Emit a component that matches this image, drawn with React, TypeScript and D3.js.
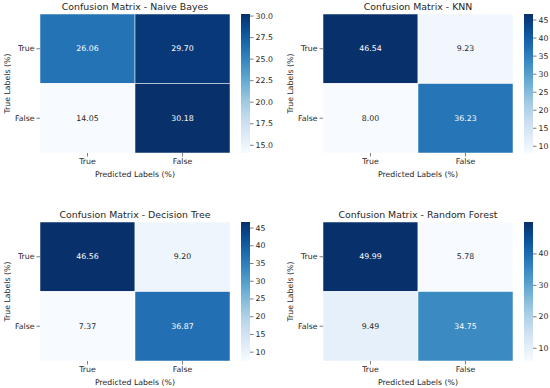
// Confusion matrix heatmaps (four models) with D3
import React, { useEffect, useRef } from 'react';
import * as d3 from 'd3';

const W = 550;
const H = 388;

const models = ['Naive Bayes', 'KNN', 'Decision Tree', 'Random Forest'];
const classLabels = ['True', 'False'];

// rows = true label, cols = predicted label
const naiveBayes = [[26.06, 29.7], [14.05, 30.18]];
const knn = [[46.54, 9.23], [8.0, 36.23]];
const decisionTree = [[46.56, 9.2], [7.37, 36.87]];
const randomForest = [[49.99, 5.78], [9.49, 34.75]];

const nbTicks = [15, 17.5, 20, 22.5, 25, 27.5, 30];
const knnTicks = [10, 15, 20, 25, 30, 35, 40, 45];
const dtTicks = [10, 15, 20, 25, 30, 35, 40, 45];
const rfTicks = [10, 20, 30, 40];

const matrices = [naiveBayes, knn, decisionTree, randomForest];
const tickSets = [nbTicks, knnTicks, dtTicks, rfTicks];
const tickFormats = ['.1f', 'd', 'd', 'd'];

// panel layout (heatmap box origin)
const origins = [[40, 14], [323, 14], [40, 222], [323, 222]];
const boxW = 190;
const boxH = 139;
const FS = 7.8;
const FONT = 'DejaVu Sans, sans-serif';
const INK = '#262626';

// seaborn-style text colour choice
const luminance = (c: string) => {
  const rgb = d3.rgb(c);
  const ch = [rgb.r, rgb.g, rgb.b].map(v => {
    const s = v / 255;
    return s <= 0.03928 ? s / 12.92 : Math.pow((s + 0.055) / 1.055, 2.4);
  });
  return 0.2126 * ch[0] + 0.7152 * ch[1] + 0.0722 * ch[2];
};

const App = () => {
  const svgRef = useRef<SVGSVGElement>(null);

  useEffect(() => {
    document.body.style.margin = '0';
    if (!svgRef.current) return;
    const svg = d3.select(svgRef.current);
    svg.selectAll('*').remove();

    svg.append('rect').attr('width', W).attr('height', H).attr('fill', '#fff');
    const defs = svg.append('defs');

    matrices.forEach((m, i) => {
      const [ox, oy] = origins[i];
      const flat = m.flat();
      const vmin = d3.min(flat) as number;
      const vmax = d3.max(flat) as number;
      const color = d3.scaleSequential(d3.interpolateBlues).domain([vmin, vmax]);

      const x = d3.scaleBand().domain(classLabels).range([0, boxW]);
      const y = d3.scaleBand().domain(classLabels).range([0, boxH]);

      const g = svg.append('g').attr('transform', `translate(${ox},${oy})`);

      const cells = classLabels.flatMap((r, ri) =>
        classLabels.map((c, ci) => ({ r, c, v: m[ri][ci] })));

      g.selectAll('rect.cell')
        .data(cells)
        .enter()
        .append('rect')
        .attr('class', 'cell')
        .attr('x', d => x(d.c) || 0)
        .attr('y', d => y(d.r) || 0)
        .attr('width', x.bandwidth())
        .attr('height', y.bandwidth())
        .attr('fill', d => color(d.v))
        .attr('stroke', '#fff')
        .attr('stroke-width', 0.5);

      g.selectAll('text.annot')
        .data(cells)
        .enter()
        .append('text')
        .attr('class', 'annot')
        .attr('x', d => (x(d.c) || 0) + x.bandwidth() / 2)
        .attr('y', d => (y(d.r) || 0) + y.bandwidth() / 2)
        .attr('dy', '0.35em')
        .attr('text-anchor', 'middle')
        .attr('font-family', FONT)
        .attr('font-size', FS)
        .attr('fill', d => (luminance(color(d.v)) > 0.408 ? INK : '#fff'))
        .text(d => d.v.toFixed(2));

      // axes
      const xAxis = g.append('g')
        .attr('transform', `translate(0,${boxH})`)
        .call(d3.axisBottom(x).tickSize(3.5).tickPadding(2));
      const yAxis = g.append('g')
        .call(d3.axisLeft(y).tickSize(3.5).tickPadding(2));
      [xAxis, yAxis].forEach(a => {
        a.select('.domain').remove();
        a.selectAll('line').attr('stroke', INK).attr('stroke-width', 0.6);
        a.selectAll('text').attr('font-family', FONT).attr('font-size', FS).attr('fill', INK);
      });

      g.append('text')
        .attr('x', boxW / 2)
        .attr('y', -4)
        .attr('text-anchor', 'middle')
        .attr('font-family', FONT)
        .attr('font-size', 9.4)
        .attr('fill', INK)
        .text(`Confusion Matrix - ${models[i]}`);

      g.append('text')
        .attr('x', boxW / 2)
        .attr('y', boxH + 24)
        .attr('text-anchor', 'middle')
        .attr('font-family', FONT)
        .attr('font-size', FS)
        .attr('fill', INK)
        .text('Predicted Labels (%)');

      g.append('text')
        .attr('transform', `translate(-30,${boxH / 2}) rotate(-90)`)
        .attr('text-anchor', 'middle')
        .attr('font-family', FONT)
        .attr('font-size', FS)
        .attr('fill', INK)
        .text('True Labels (%)');

      // colorbar
      const gradId = `cbar${i}`;
      const grad = defs.append('linearGradient')
        .attr('id', gradId)
        .attr('x1', 0).attr('y1', 1).attr('x2', 0).attr('y2', 0);
      d3.range(0, 1.0001, 0.05).forEach(t => {
        grad.append('stop').attr('offset', t).attr('stop-color', d3.interpolateBlues(t));
      });

      const cb = g.append('g').attr('transform', `translate(${boxW + 11},0)`);
      cb.append('rect')
        .attr('width', 9)
        .attr('height', boxH)
        .attr('fill', `url(#${gradId})`);
      const cy = d3.scaleLinear().domain([vmin, vmax]).range([boxH, 0]);
      const cAxis = cb.append('g')
        .attr('transform', 'translate(9,0)')
        .call(d3.axisRight(cy).tickValues(tickSets[i]).tickFormat(d3.format(tickFormats[i])).tickSize(3.5).tickPadding(2));
      cAxis.select('.domain').remove();
      cAxis.selectAll('line').attr('stroke', INK).attr('stroke-width', 0.6);
      cAxis.selectAll('text').attr('font-family', FONT).attr('font-size', FS).attr('fill', INK);
    });
  }, []);

  return <svg ref={svgRef} width={W} height={H} style={{ display: 'block' }} />;
};

export default App;
